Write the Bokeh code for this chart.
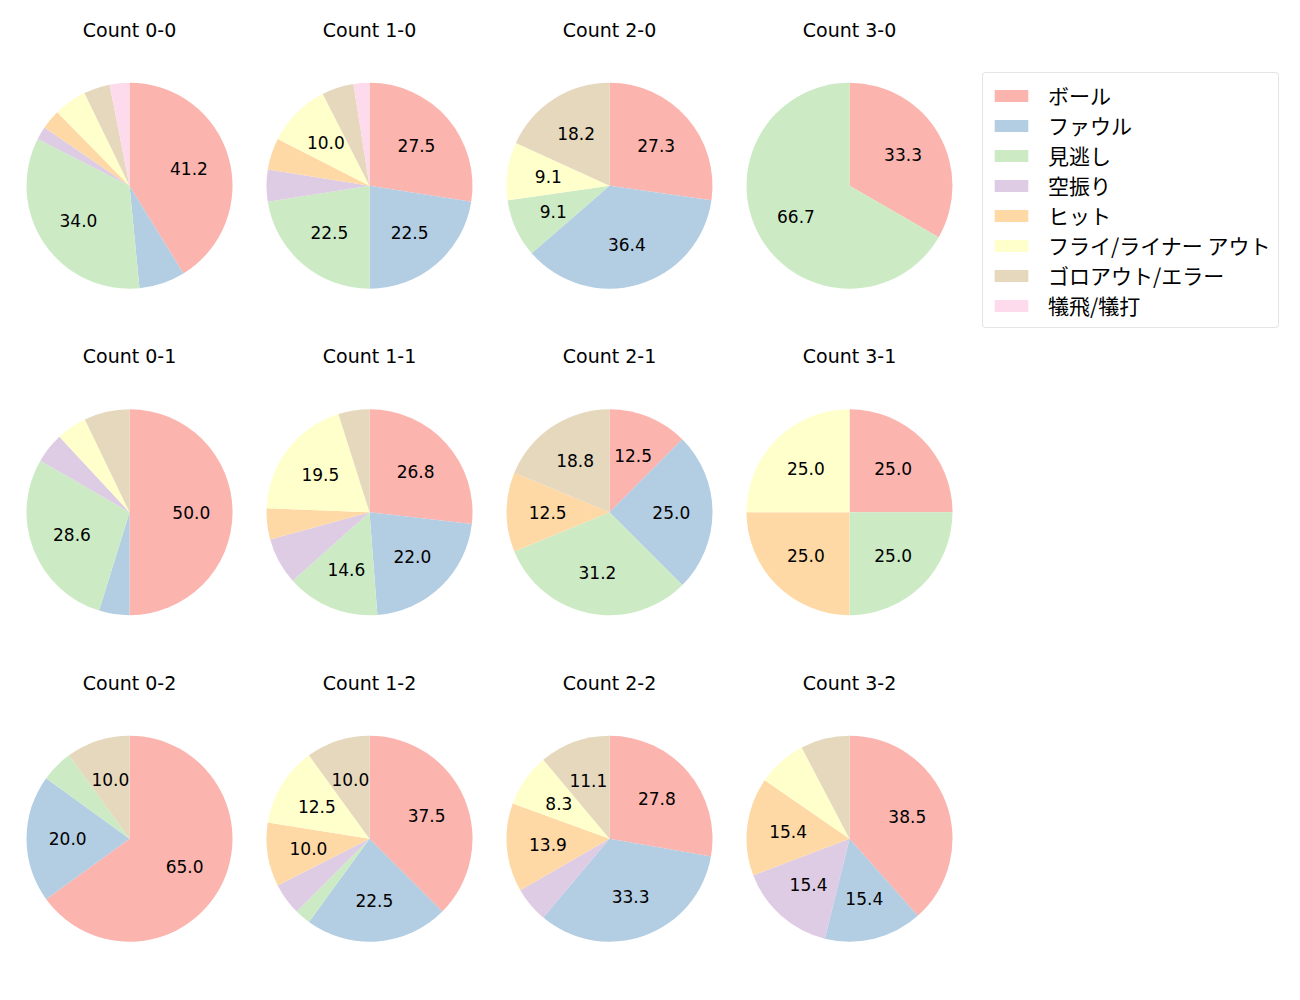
import math
from bokeh.plotting import figure
from bokeh.models import Range1d, Legend, LegendItem, ColumnDataSource
from bokeh.core.properties import value
from bokeh.embed import file_html
from bokeh.resources import INLINE

# ---- data ----
panel_titles = ["Count 0-0", "Count 1-0", "Count 2-0", "Count 3-0",
                "Count 0-1", "Count 1-1", "Count 2-1", "Count 3-1",
                "Count 0-2", "Count 1-2", "Count 2-2", "Count 3-2"]
categories = ["ボール", "ファウル", "見逃し", "空振り", "ヒット",
              "フライ/ライナー アウト", "ゴロアウト/エラー", "犠飛/犠打"]
colors = ["#fbb4ae", "#b3cde3", "#ccebc5", "#decbe4",
          "#fed9a6", "#ffffcc", "#e5d8bd", "#fddaec"]

# counts per category, one value per panel (panel order as panel_titles)
ball      = [40, 11, 3, 1, 21, 11, 2, 1, 13, 15, 10, 5]
foul      = [7,  9,  4, 0, 2,  9,  4, 0, 4,  9,  12, 2]
minogashi = [33, 9,  1, 2, 12, 6,  5, 1, 1,  1,  0,  0]
karaburi  = [2,  2,  0, 0, 2,  3,  0, 0, 0,  2,  2,  2]
hit       = [3,  2,  0, 0, 0,  2,  2, 1, 0,  4,  5,  2]
fly       = [5,  4,  1, 0, 2,  8,  0, 1, 0,  5,  3,  1]
goro      = [4,  2,  2, 0, 3,  2,  3, 0, 2,  4,  4,  1]
gihi      = [3,  1,  0, 0, 0,  0,  0, 0, 0,  0,  0,  0]
series = [ball, foul, minogashi, karaburi, hit, fly, goro, gihi]

# ---- layout (page pixel space; data y = 1000 - page y) ----
W, H = 1284, 984
R = 103
col_x = [129, 369, 609, 849]
row_y = [185.2, 511.7, 838.2]
title_y = [29, 355.5, 682]

p = figure(width=W, height=H, output_backend="svg", toolbar_location=None,
           x_range=Range1d(0, W), y_range=Range1d(1000 - H, 1000),
           x_axis_location=None, y_axis_location=None, min_border=0)
p.grid.visible = False
p.outline_line_color = None
p.background_fill_color = "white"
p.border_fill_color = "white"

n_panels = len(panel_titles)
totals = [sum(s[i] for s in series) for i in range(n_panels)]
cum = [0] * n_panels

wedge_data = [dict(x=[], y=[], start=[], end=[]) for _ in series]
lab = dict(x=[], y=[], text=[])
for i in range(n_panels):
    cx = col_x[i % 4]
    cy = 1000 - row_y[i // 4]
    for k, s in enumerate(series):
        c = s[i]
        if c <= 0:
            continue
        before = cum[i]
        after = before + c
        cum[i] = after
        a0 = math.pi / 2 - 2 * math.pi * after / totals[i]
        a1 = math.pi / 2 - 2 * math.pi * before / totals[i]
        d = wedge_data[k]
        d["x"].append(cx); d["y"].append(cy)
        d["start"].append(a0); d["end"].append(a1)
        pct = 100.0 * c / totals[i]
        if pct > 8:
            mid = (a0 + a1) / 2
            lab["x"].append(cx + 0.6 * R * math.cos(mid))
            lab["y"].append(cy + 0.6 * R * math.sin(mid))
            lab["text"].append(f"{pct:.1f}")

items = []
for k, d in enumerate(wedge_data):
    r = p.wedge(x="x", y="y", radius=R, start_angle="start", end_angle="end",
                source=ColumnDataSource(d), fill_color=colors[k], line_color=None)
    items.append(LegendItem(label=categories[k], renderers=[r]))

p.text(x="x", y="y", text="text", source=ColumnDataSource(lab),
       text_align="center", text_baseline="middle", text_color="black",
       text_font=value("DejaVu Sans"), text_font_size="17px")

tsrc = ColumnDataSource(dict(
    x=[col_x[i % 4] for i in range(n_panels)],
    y=[1000 - title_y[i // 4] for i in range(n_panels)],
    text=panel_titles))
p.text(x="x", y="y", text="text", source=tsrc, text_align="center",
       text_baseline="middle", text_color="black",
       text_font=value("DejaVu Sans"), text_font_size="19px")

legend = Legend(items=items, location=(982, H - 328), orientation="vertical",
                label_text_font="Noto Sans CJK JP", label_text_font_size="21px",
                label_text_color="black", label_text_line_height=1.0,
                glyph_width=42, glyph_height=15, label_height=20,
                label_standoff=16, spacing=0, padding=7, margin=0,
                border_line_color="#cccccc", border_line_width=1,
                background_fill_color="white", background_fill_alpha=0.8)
if "border_radius" in Legend.properties():
    legend.border_radius = 4
p.add_layout(legend)

open("out.html", "w").write(file_html(p, INLINE))
